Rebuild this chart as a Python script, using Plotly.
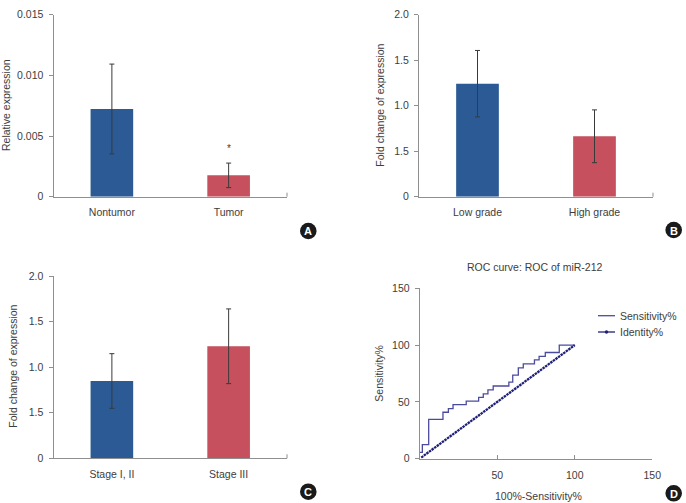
import plotly.graph_objects as go

W, H = 686, 503

# ---------------- data ----------------
cats_a = ["Nontumor", "Tumor"]
vals_a = [0.00723, 0.00176]
err_a = [0.0037, 0.00101]
star_a = 0.0040

cats_b = ["Low grade", "High grade"]
vals_b = [1.242, 0.664]
err_b = [0.365, 0.29]

cats_c = ["Stage I, II", "Stage III"]
vals_c = [0.848, 1.229]
err_c = [0.30, 0.41]

ticks_a = [0, 0.005, 0.010, 0.015]
ticktext_a = ["0", "0.005", "0.010", "0.015"]
ticks_bc = [0, 0.5, 1.0, 1.5, 2.0]
ticktext_bc = ["0", "1.5", "1.0", "1.5", "2.0"]

roc_x = [0, 1.7, 5.8, 15, 18.5, 21.5, 30, 38, 41, 44, 47.4, 57.5, 60, 63.6, 66.8, 74, 77, 81, 90, 100]
roc_y = [5.6, 12.4, 34.7, 40.9, 44, 47.6, 50.6, 54, 57, 60.6, 64, 67.4, 73.5, 80, 83.5, 87, 90, 93.5, 100, 100]
ident_x = [1, 100]
ident_y = [1, 100]
d_xticks = [50, 100, 150]
d_yticks = [0, 50, 100, 150]

# ---------------- style ----------------
BLUE = "#2b5a94"
RED = "#c6505e"
AX = "#8f8f8f"
TXT = "#3d3d3d"
FONT = "Liberation Sans, Arial, sans-serif"
FS = 10.5
ERR = dict(type="data", color="#3a3a3a", thickness=1, width=2.5)


def px(x):
    return x / W


def py(y):
    return 1 - y / H


fig = go.Figure()

for cats, vals, errs, xa, ya in [
    (cats_a, vals_a, err_a, "x", "y"),
    (cats_b, vals_b, err_b, "x2", "y2"),
    (cats_c, vals_c, err_c, "x3", "y3"),
]:
    fig.add_trace(go.Bar(
        x=cats, y=vals, width=0.365,
        marker=dict(color=[BLUE, RED], line=dict(width=0)),
        error_y=dict(array=errs, **ERR),
        xaxis=xa, yaxis=ya, showlegend=False,
    ))

fig.add_trace(go.Scatter(
    x=roc_x, y=roc_y, mode="lines", line=dict(color="#4b4b9e", width=1.3, shape="hv"),
    xaxis="x4", yaxis="y4", showlegend=False,
))
fig.add_trace(go.Scatter(
    x=ident_x, y=ident_y, mode="lines", line=dict(color="#1f1f78", width=2.3, dash="2.5px,0.7px"),
    xaxis="x4", yaxis="y4", showlegend=False,
))

tickfont = dict(family=FONT, size=FS, color=TXT)


def cat_x(domain, anchor):
    return dict(domain=domain, anchor=anchor, type="category", range=[-0.5, 1.5],
                showline=True, linecolor=AX, linewidth=1, ticks="", showgrid=False,
                zeroline=False, tickfont=tickfont, ticklabelstandoff=6, automargin=False,
                fixedrange=True)


def val_y(domain, anchor, rng, tv, tt):
    return dict(domain=domain, anchor=anchor, range=rng, tickvals=tv, ticktext=tt,
                showline=True, linecolor=AX, linewidth=1, ticks="outside", ticklen=4,
                tickcolor=AX, showgrid=False, zeroline=False, tickfont=tickfont,
                ticklabelstandoff=3, automargin=False, fixedrange=True)


dxA = [px(53.5), px(287)]
dxB = [px(419), px(653)]
dyTop = [py(196.7), py(14.7)]
dyC = [py(458.3), py(276)]
dxD = [px(419.7), px(652.3)]
dyD = [py(458.7), py(288.3)]

fig.update_layout(
    width=W, height=H, margin=dict(l=0, r=0, t=0, b=0),
    paper_bgcolor="white", plot_bgcolor="white",
    font=dict(family=FONT, size=FS, color=TXT),
    xaxis=cat_x(dxA, "y"),
    yaxis=val_y(dyTop, "x", [0, 0.015], ticks_a, ticktext_a),
    xaxis2=cat_x(dxB, "y2"),
    yaxis2=val_y(dyTop, "x2", [0, 2.0], ticks_bc, ticktext_bc),
    xaxis3=cat_x(dxA, "y3"),
    yaxis3=val_y(dyC, "x3", [0, 2.0], ticks_bc, ticktext_bc),
    xaxis4=dict(domain=dxD, anchor="y4", range=[0, 150], tickvals=d_xticks,
                showline=True, linecolor=AX, linewidth=1, ticks="inside", ticklen=4,
                tickcolor=AX, showgrid=False, zeroline=False, tickfont=tickfont,
                ticklabelstandoff=7, automargin=False, fixedrange=True),
    yaxis4=val_y(dyD, "x4", [0, 150], d_yticks, [str(v) for v in d_yticks]),
)

shapes = []
# right-end ticks on category axes
for xr, yr in [("x domain", "y domain"), ("x2 domain", "y2 domain"), ("x3 domain", "y3 domain")]:
    shapes.append(dict(type="line", xref=xr, yref=yr, x0=1, x1=1, y0=0, y1=0.022,
                       line=dict(color=AX, width=1)))

annotations = []
# asterisk
annotations.append(dict(x=cats_a[1], y=star_a, xref="x", yref="y", text="*", showarrow=False,
                        font=dict(size=10, color=TXT)))


def ann(x, y, text, angle=0, size=FS, color=TXT, bold=False):
    annotations.append(dict(x=px(x), y=py(y), xref="paper", yref="paper", text=f"<b>{text}</b>" if bold else text,
                            showarrow=False, textangle=angle, xanchor="center", yanchor="middle",
                            font=dict(family=FONT, size=size, color=color)))


ann(6, 105, "Relative expression", -90)
ann(380, 105.7, "Fold change of expression", -90)
ann(13, 366.7, "Fold change of expression", -90)
ann(378.7, 373, "Sensitivity%", -90)
ann(538, 495.5, "100%-Sensitivity%")
ann(535, 267, "ROC curve: ROC of miR-212")

# legend (manual)
shapes.append(dict(type="line", xref="paper", yref="paper", x0=px(598), x1=px(615), y0=py(315.7), y1=py(315.7),
                   line=dict(color="#4b4b9e", width=1.3)))
shapes.append(dict(type="line", xref="paper", yref="paper", x0=px(598), x1=px(615), y0=py(332), y1=py(332),
                   line=dict(color="#1f1f78", width=1.3)))
shapes.append(dict(type="circle", xref="paper", yref="paper", x0=px(604.8), x1=px(608.2), y0=py(333.7), y1=py(330.3),
                   fillcolor="#1f1f78", line=dict(width=0)))
annotations.append(dict(x=px(618), y=py(315.7), xref="paper", yref="paper", text="Sensitivity%", showarrow=False,
                        xanchor="left", yanchor="middle", font=dict(family=FONT, size=FS, color=TXT)))
annotations.append(dict(x=px(618), y=py(332), xref="paper", yref="paper", text="Identity%", showarrow=False,
                        xanchor="left", yanchor="middle", font=dict(family=FONT, size=FS, color=TXT)))

# panel badges
for cx, cy, letter in [(308.3, 231, "A"), (673.7, 230, "B"), (308.3, 491.7, "C"), (673.7, 493.3, "D")]:
    r = 8.3
    shapes.append(dict(type="circle", xref="paper", yref="paper", x0=px(cx - r), x1=px(cx + r),
                       y0=py(cy + r), y1=py(cy - r), fillcolor="#1a1a1a", line=dict(width=0)))
    ann(cx, cy + 0.5, letter, size=11, color="white", bold=True)

fig.update_layout(shapes=shapes, annotations=annotations)
fig.write_html("out.html")
